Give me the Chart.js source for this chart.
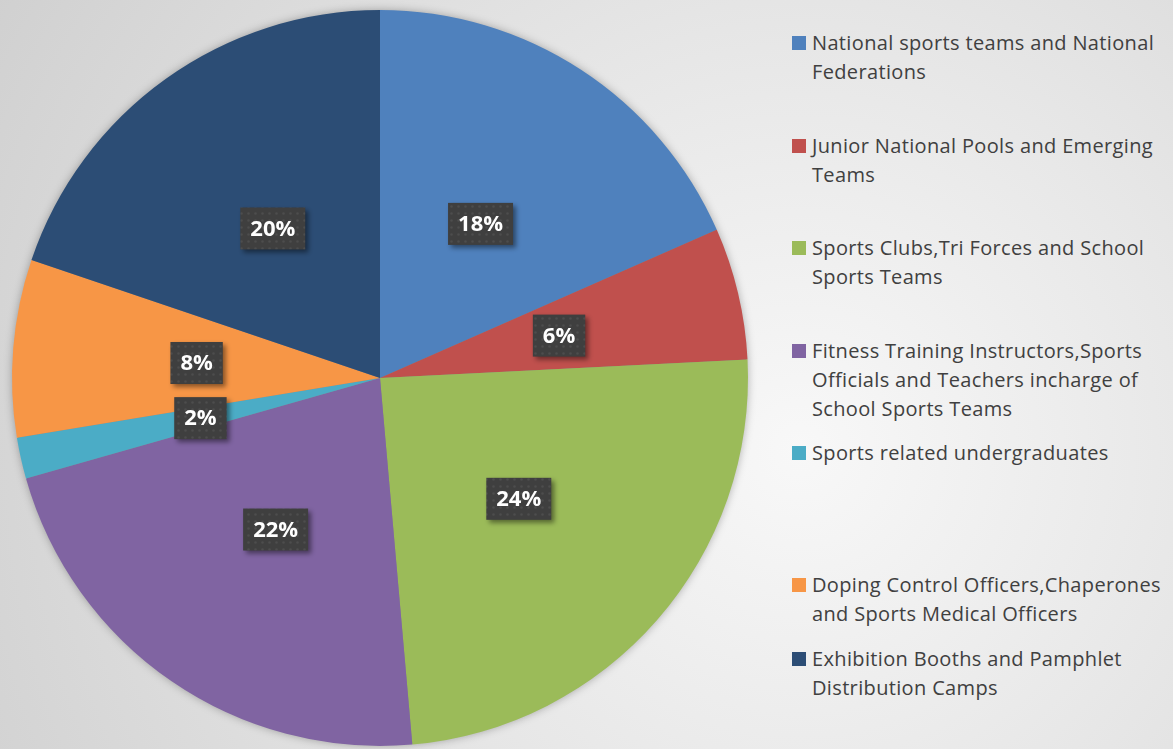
<!DOCTYPE html>
<html>
<head>
<meta charset="utf-8">
<script src="https://cdn.jsdelivr.net/npm/chart.js@4/dist/chart.umd.min.js"></script>
<style>
  html, body { margin: 0; padding: 0; }
  body {
    width: 1173px; height: 749px; overflow: hidden; position: relative;
    background: radial-gradient(circle 950px at 800px 450px, #f8f8f8 0%, #e6e6e6 45%, #cfcfcf 100%);
    font-family: "Open Sans", sans-serif;
  }
  #wrap { position: absolute; left: 0; top: 0; width: 760px; height: 749px; }
  #legend { position: absolute; left: 792px; top: 0; width: 381px; height: 749px; }
  .item { position: absolute; left: 0; width: 381px; font-size: 20px; letter-spacing: 0.35px; line-height: 29px; color: #404040; padding-left: 20px; box-sizing: border-box; white-space: nowrap; }
  .item span.box { position: absolute; left: 0; top: 8px; width: 14px; height: 14px; }
</style>
</head>
<body>
<div id="wrap"><canvas id="myChart"></canvas></div>
<div id="legend"></div>
<script>
const categories = [
    'National sports teams and National Federations',
    'Junior National Pools and Emerging Teams',
    'Sports Clubs,Tri Forces and School Sports Teams',
    'Fitness Training Instructors,Sports Officials and Teachers incharge of School Sports Teams',
    'Sports related undergraduates',
    'Doping Control Officers,Chaperones and Sports Medical Officers',
    'Exhibition Booths and Pamphlet Distribution Camps',
];

// legend text split as in the original
const legendLines = [
    ['National sports teams and National', 'Federations'],
    ['Junior National Pools and Emerging', 'Teams'],
    ['Sports Clubs,Tri Forces and School', 'Sports Teams'],
    ['Fitness Training Instructors,Sports', 'Officials and Teachers incharge of', 'School Sports Teams'],
    ['Sports related undergraduates'],
    ['Doping Control Officers,Chaperones', 'and Sports Medical Officers'],
    ['Exhibition Booths and Pamphlet', 'Distribution Camps'],
];

const shares = [18.4, 5.8, 24.4, 22.0, 1.8, 7.8, 19.8];

const colors = ['#4F81BD', '#C0504D', '#9BBB59', '#8064A2', '#4BACC6', '#F79646', '#2C4D75'];

// legend
const legendTops = [28, 131, 233, 336, 438, 570, 644];
const legend = document.getElementById('legend');
categories.forEach((c, i) => {
    const d = document.createElement('div');
    d.className = 'item';
    d.style.top = legendTops[i] + 'px';
    d.innerHTML = '<span class="box" style="background:' + colors[i] + '"></span>' + legendLines[i].join('<br>');
    legend.appendChild(d);
});

// dotted fill for the value boxes
const pat = document.createElement('canvas');
pat.width = 7; pat.height = 7;
const pc = pat.getContext('2d');
pc.fillStyle = '#3f3f3f';
pc.fillRect(0, 0, 7, 7);
pc.fillStyle = '#4d4d4d';
pc.beginPath(); pc.arc(3.5, 3.5, 1.3, 0, Math.PI * 2); pc.fill();

const pieShadow = {
    id: 'pieShadow',
    beforeDatasetsDraw(chart) {
        const arc = chart.getDatasetMeta(0).data[0];
        if (!arc) return;
        const ctx = chart.ctx;
        ctx.save();
        ctx.shadowColor = 'rgba(0,0,0,0.35)';
        ctx.shadowBlur = 10;
        ctx.fillStyle = '#888';
        ctx.beginPath();
        ctx.arc(arc.x, arc.y, arc.outerRadius - 1, 0, Math.PI * 2);
        ctx.fill();
        ctx.restore();
    }
};

const valueBoxes = {
    id: 'valueBoxes',
    afterDatasetsDraw(chart) {
        const ctx = chart.ctx;
        const ds = chart.data.datasets[0].data;
        const total = ds.reduce((a, b) => a + b, 0);
        ctx.save();
        ctx.font = 'bold 22px "Open Sans"';
        ctx.textAlign = 'center';
        ctx.textBaseline = 'middle';
        chart.getDatasetMeta(0).data.forEach((arc, i) => {
            const p = arc.tooltipPosition();
            const txt = Math.round(ds[i] / total * 100) + '%';
            const w = ctx.measureText(txt).width + 20;
            const h = 42;
            ctx.save();
            ctx.shadowColor = 'rgba(0,0,0,0.45)';
            ctx.shadowBlur = 5;
            ctx.shadowOffsetX = 3;
            ctx.shadowOffsetY = 3;
            ctx.fillStyle = ctx.createPattern(pat, 'repeat');
            ctx.fillRect(p.x - w / 2, p.y - h / 2, w, h);
            ctx.restore();
            ctx.fillStyle = '#ffffff';
            ctx.fillText(txt, p.x, p.y + 1);
        });
        ctx.restore();
    }
};

const data = {
    labels: categories,
    datasets: [{
        data: shares,
        backgroundColor: colors,
        borderWidth: 0,
    }]
};

const config = {
    type: 'pie',
    data: data,
    options: {
        responsive: true,
        maintainAspectRatio: false,
        animation: false,
        layout: {
            padding: { left: 12, right: 12, top: 10, bottom: 3 }
        },
        plugins: {
            legend: { display: false },
            tooltip: { enabled: false }
        }
    },
    plugins: [pieShadow, valueBoxes]
};

const myChart = new Chart(
    document.getElementById('myChart'),
    config
);
</script>
</body>
</html>
